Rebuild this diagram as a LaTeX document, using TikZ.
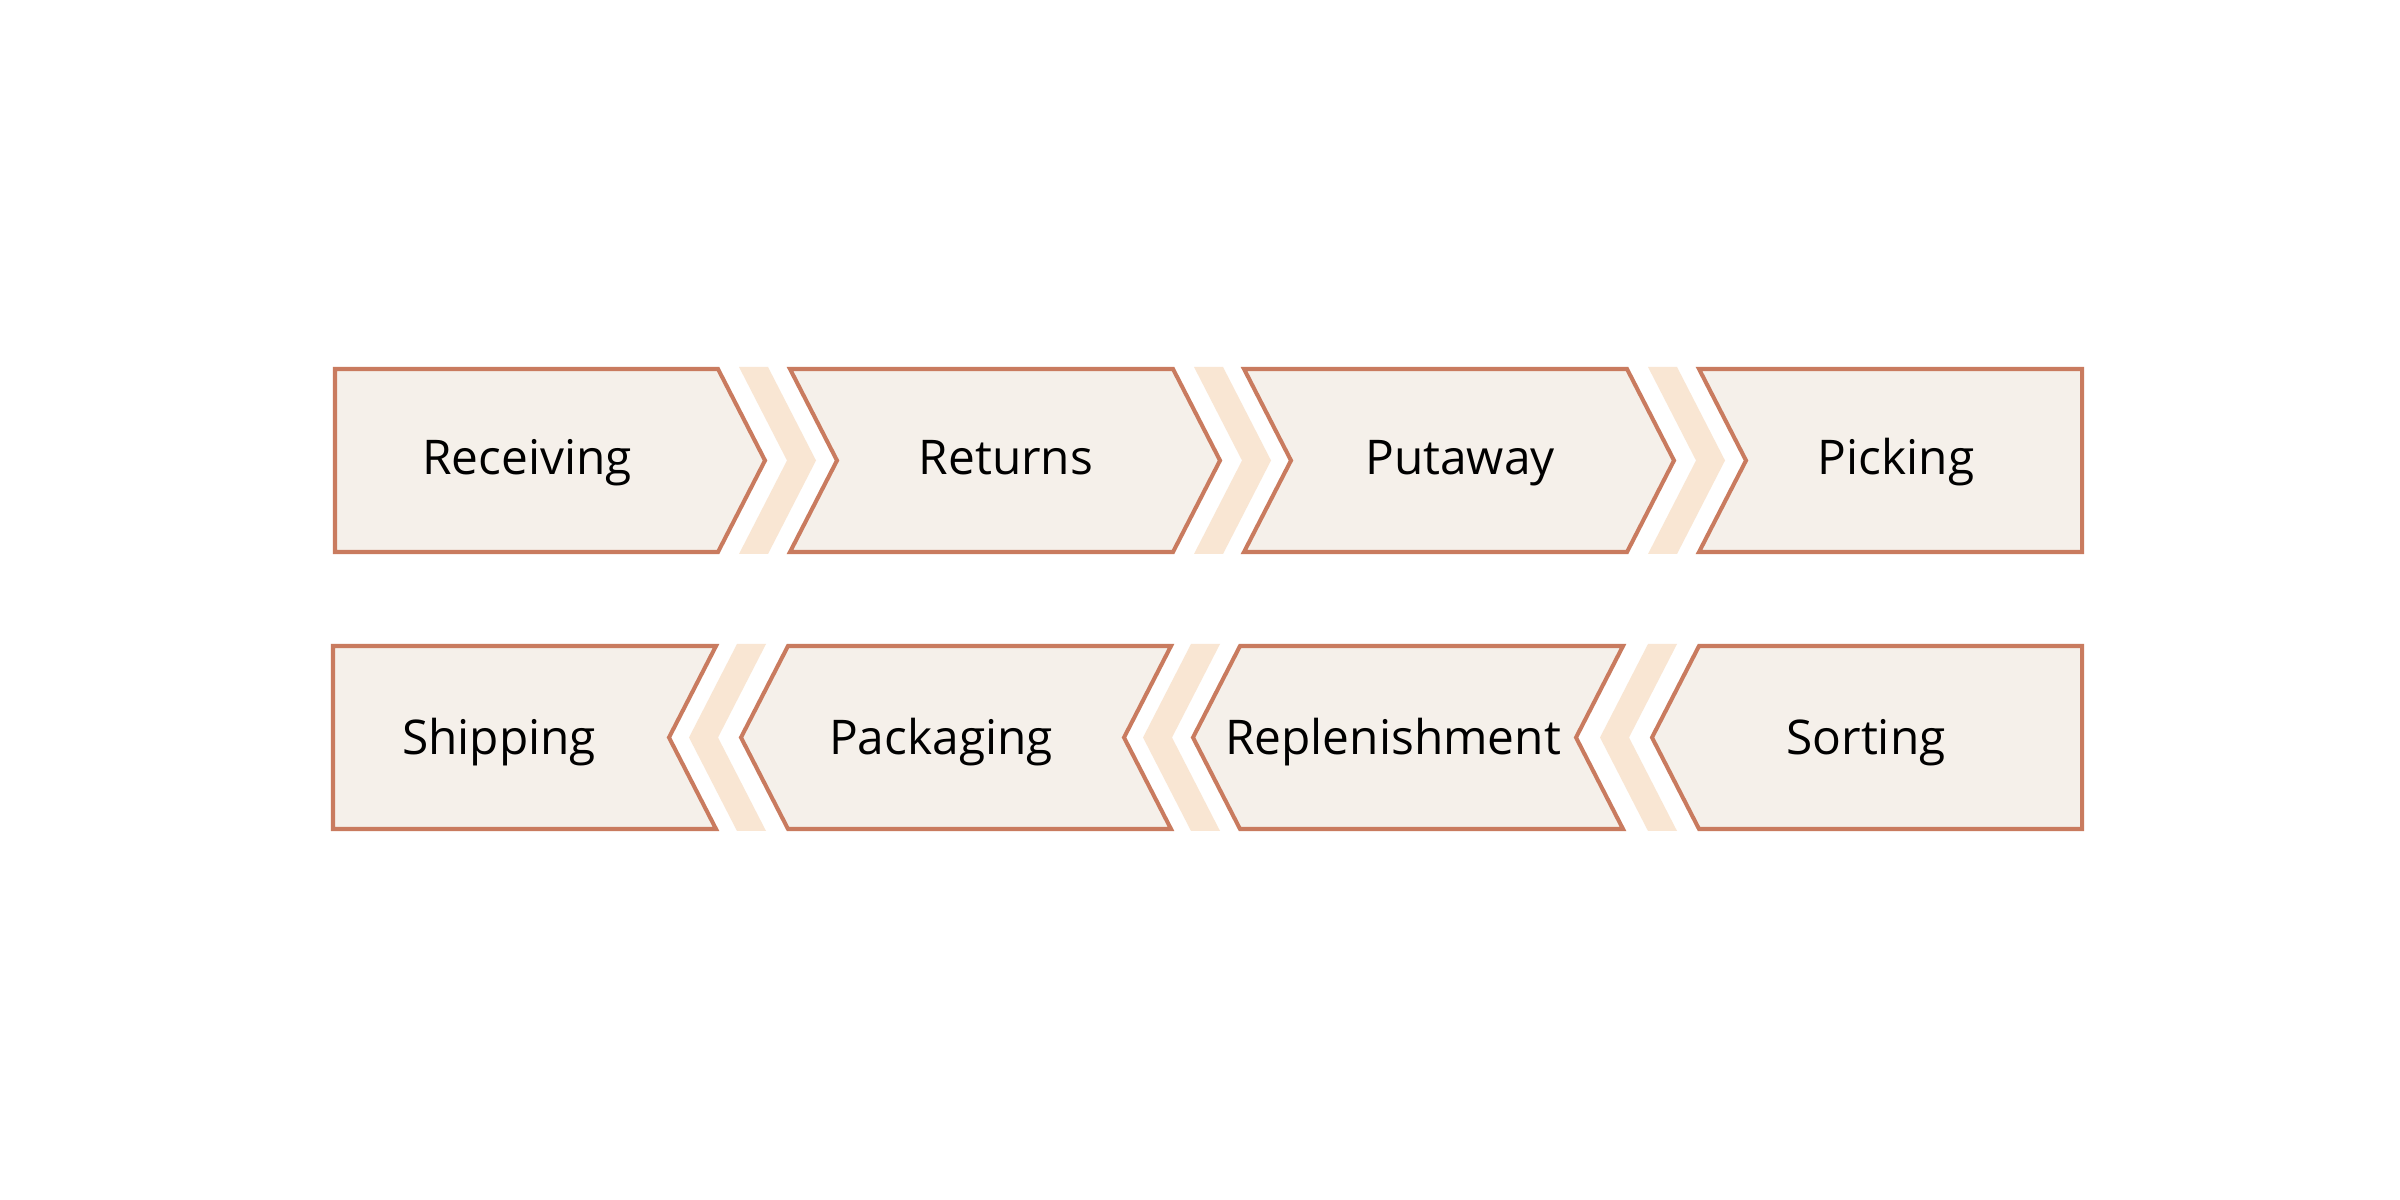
\documentclass[tikz,border=0pt]{standalone}
\usepackage{fontspec}
\setmainfont{Open Sans}
\definecolor{edge}{HTML}{C97B5F}
\definecolor{boxfill}{HTML}{F5F0EA}
\definecolor{sepfill}{HTML}{F9E6D3}
\begin{document}
\begin{tikzpicture}[x=0.01cm,y=0.01cm,
  box/.style={draw=edge, fill=boxfill, line width=1.15pt, line join=miter},
  sepbar/.style={fill=sepfill, draw=none},
  lbl/.style={font=\fontsize{13.6}{16}\selectfont, text=black, anchor=base, inner sep=0pt}]
\useasboundingbox[fill=white] (0,0) rectangle (2400,1200);
% ---------- row 1 (pointing right) ----------
\path[box] (335,831) -- (718,831) -- (765,739.5) -- (718,648) -- (335,648) -- cycle;
\path[box] (790,831) -- (1173,831) -- (1220,739.5) -- (1173,648) -- (790,648) -- (837,739.5) -- cycle;
\path[box] (1244,831) -- (1627,831) -- (1674,739.5) -- (1627,648) -- (1244,648) -- (1291,739.5) -- cycle;
\path[box] (1699,831) -- (2082,831) -- (2082,648) -- (1699,648) -- (1746,739.5) -- cycle;
\foreach \s in {739,1194,1648}{
  \path[sepbar] (\s,833) -- (\s+29,833) -- (\s+77,739.5) -- (\s+29,646) -- (\s,646) -- (\s+48,739.5) -- cycle;
}
% ---------- row 2 (pointing left) ----------
\path[box] (333,554) -- (716,554) -- (669,462.5) -- (716,371) -- (333,371) -- cycle;
\path[box] (788,554) -- (1171,554) -- (1124,462.5) -- (1171,371) -- (788,371) -- (741,462.5) -- cycle;
\path[box] (1240,554) -- (1623,554) -- (1576,462.5) -- (1623,371) -- (1240,371) -- (1193,462.5) -- cycle;
\path[box] (1699,554) -- (2082,554) -- (2082,371) -- (1699,371) -- (1652,462.5) -- cycle;
\foreach \s in {737,1191,1648}{
  \path[sepbar] (\s,556) -- (\s+29,556) -- (\s-19,462.5) -- (\s+29,369) -- (\s,369) -- (\s-48,462.5) -- cycle;
}
% ---------- labels ----------
\node[lbl] (receiving) at (527,725) {Receiving};
\node[lbl] (returns) at (1006,725) {Returns};
\node[lbl] (putaway) at (1460,725) {Putaway};
\node[lbl] (picking) at (1896,725) {Picking};
\node[lbl] (shipping) at (499,445) {Shipping};
\node[lbl] (packaging) at (941,445) {Packaging};
\node[lbl] (replenishment) at (1393,445) {Replenishment};
\node[lbl] (sorting) at (1866,445) {Sorting};
\end{tikzpicture}
\end{document}
